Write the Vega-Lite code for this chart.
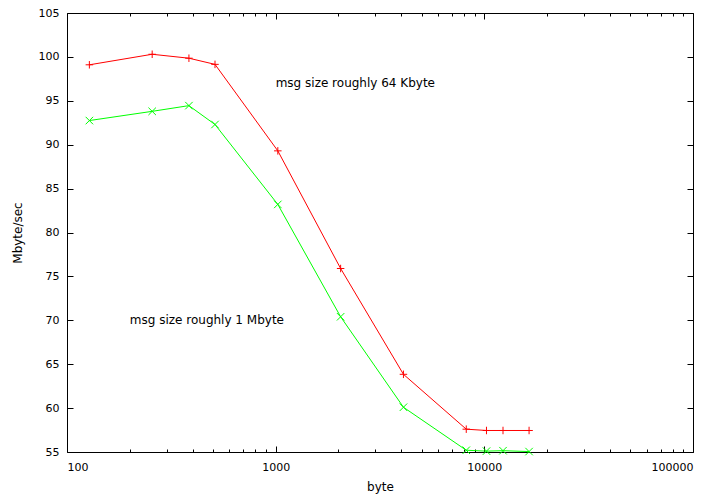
{
  "$schema": "https://vega.github.io/schema/vega-lite/v6.json",
  "width": 626,
  "height": 439,
  "autosize": {"type": "none"},
  "padding": {"left": 67, "top": 13, "right": 26, "bottom": 42},
  "background": "white",
  "config": {
    "font": "DejaVu Sans",
    "view": {"stroke": "black", "strokeWidth": 1},
    "axis": {
      "grid": false,
      "domain": false,
      "tickColor": "black",
      "tickWidth": 1,
      "labelFont": "DejaVu Sans",
      "labelFontSize": 11,
      "labelColor": "black",
      "titleFont": "DejaVu Sans",
      "titleFontSize": 12,
      "titleFontWeight": "normal",
      "titleColor": "black",
      "labelOverlap": false
    }
  },
  "datasets": {
    "series": [
      {"size": 128, "rate": 99.1, "msg": "64K"},
      {"size": 256, "rate": 100.3, "msg": "64K"},
      {"size": 384, "rate": 99.85, "msg": "64K"},
      {"size": 512, "rate": 99.15, "msg": "64K"},
      {"size": 1024, "rate": 89.3, "msg": "64K"},
      {"size": 2048, "rate": 75.9, "msg": "64K"},
      {"size": 4096, "rate": 63.85, "msg": "64K"},
      {"size": 8192, "rate": 57.6, "msg": "64K"},
      {"size": 10240, "rate": 57.45, "msg": "64K"},
      {"size": 12288, "rate": 57.45, "msg": "64K"},
      {"size": 16384, "rate": 57.45, "msg": "64K"},
      {"size": 128, "rate": 92.75, "msg": "1M"},
      {"size": 256, "rate": 93.8, "msg": "1M"},
      {"size": 384, "rate": 94.45, "msg": "1M"},
      {"size": 512, "rate": 92.3, "msg": "1M"},
      {"size": 1024, "rate": 83.2, "msg": "1M"},
      {"size": 2048, "rate": 70.4, "msg": "1M"},
      {"size": 4096, "rate": 60.1, "msg": "1M"},
      {"size": 8192, "rate": 55.2, "msg": "1M"},
      {"size": 10240, "rate": 55.1, "msg": "1M"},
      {"size": 12288, "rate": 55.15, "msg": "1M"},
      {"size": 16384, "rate": 55.05, "msg": "1M"}
    ],
    "notes": [
      {"size": 1000, "rate": 97, "text": "msg size roughly 64 Kbyte"},
      {"size": 200, "rate": 70, "text": "msg size roughly 1 Mbyte"}
    ]
  },
  "layer": [
    {
      "data": {"name": "series"},
      "mark": {"type": "line", "strokeWidth": 1, "clip": true},
      "encoding": {
        "x": {
          "field": "size", "type": "quantitative",
          "scale": {"type": "log", "domain": [100, 100000], "nice": false},
          "axis": {
            "orient": "bottom",
            "title": "byte",
            "titlePadding": 6,
            "values": [100, 200, 300, 400, 500, 600, 700, 800, 900, 1000, 2000, 3000, 4000, 5000, 6000, 7000, 8000, 9000, 10000, 20000, 30000, 40000, 50000, 60000, 70000, 80000, 90000, 100000],
            "labelExpr": "(datum.value == 100 || datum.value == 1000 || datum.value == 10000 || datum.value == 100000) ? format(datum.value, 'd') : ''",
            "tickSize": {"condition": {"test": "datum.value == 100 || datum.value == 1000 || datum.value == 10000 || datum.value == 100000", "value": -6}, "value": -3},
            "labelPadding": 15
          }
        },
        "y": {
          "field": "rate", "type": "quantitative",
          "scale": {"domain": [55, 105], "nice": false, "zero": false},
          "axis": {
            "orient": "left",
            "title": "Mbyte/sec",
            "titlePadding": 14,
            "values": [55, 60, 65, 70, 75, 80, 85, 90, 95, 100, 105],
            "tickSize": -6,
            "labelPadding": 14
          }
        },
        "color": {
          "field": "msg", "type": "nominal",
          "scale": {"domain": ["64K", "1M"], "range": ["#ff0000", "#00ff00"]},
          "legend": null
        }
      }
    },
    {
      "data": {"name": "series"},
      "mark": {"type": "point", "filled": false, "strokeWidth": 1, "size": 56, "opacity": 1},
      "encoding": {
        "x": {
          "field": "size", "type": "quantitative",
          "scale": {"type": "log", "domain": [100, 100000], "nice": false},
          "axis": {
            "orient": "top",
            "title": null,
            "labels": false,
            "values": [100, 200, 300, 400, 500, 600, 700, 800, 900, 1000, 2000, 3000, 4000, 5000, 6000, 7000, 8000, 9000, 10000, 20000, 30000, 40000, 50000, 60000, 70000, 80000, 90000, 100000],
            "tickSize": {"condition": {"test": "datum.value == 100 || datum.value == 1000 || datum.value == 10000 || datum.value == 100000", "value": -6}, "value": -3}
          }
        },
        "y": {
          "field": "rate", "type": "quantitative",
          "scale": {"domain": [55, 105], "nice": false, "zero": false},
          "axis": {
            "orient": "right",
            "title": null,
            "labels": false,
            "values": [55, 60, 65, 70, 75, 80, 85, 90, 95, 100, 105],
            "tickSize": -6
          }
        },
        "color": {
          "field": "msg", "type": "nominal",
          "scale": {"domain": ["64K", "1M"], "range": ["#ff0000", "#00ff00"]},
          "legend": null
        },
        "shape": {
          "field": "msg", "type": "nominal",
          "scale": {"domain": ["64K", "1M"], "range": ["M-1,0L1,0M0,-1L0,1", "M-1,-1L1,1M-1,1L1,-1"]},
          "legend": null
        }
      }
    },
    {
      "data": {"name": "notes"},
      "mark": {"type": "text", "align": "left", "baseline": "middle", "font": "DejaVu Sans", "fontSize": 12, "color": "black"},
      "encoding": {
        "x": {"field": "size", "type": "quantitative", "scale": {"type": "log", "domain": [100, 100000], "nice": false}, "axis": null},
        "y": {"field": "rate", "type": "quantitative", "scale": {"domain": [55, 105], "nice": false, "zero": false}, "axis": null},
        "text": {"field": "text"}
      }
    }
  ],
  "resolve": {"axis": {"x": "independent", "y": "independent"}}
}
